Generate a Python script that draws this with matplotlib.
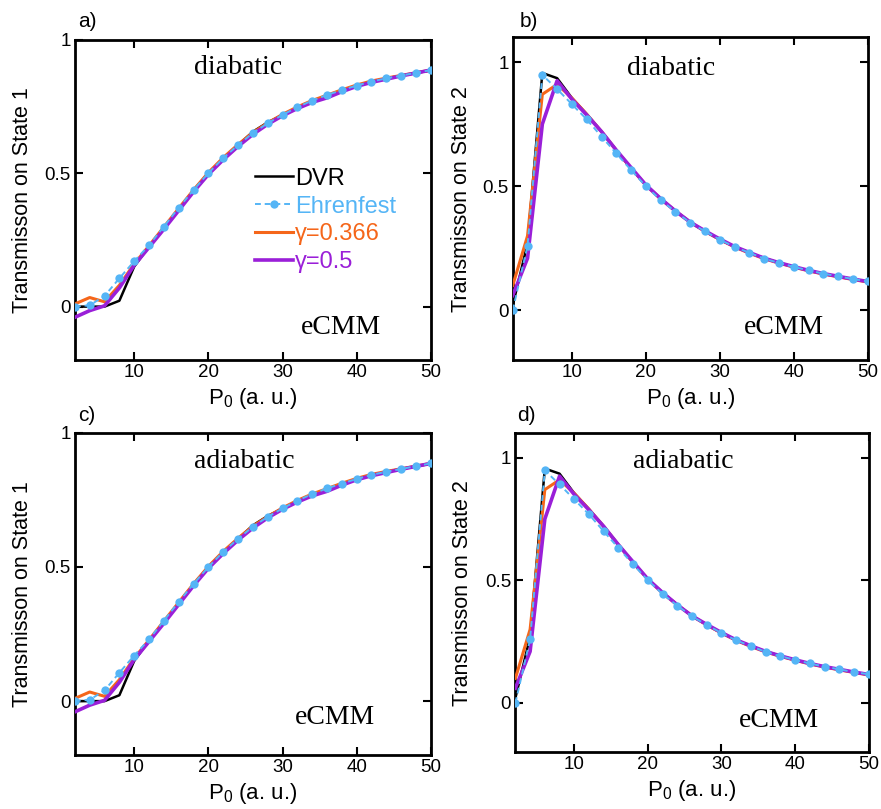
import numpy as np
import matplotlib
matplotlib.use("Agg")
import matplotlib.pyplot as plt

plt.rcParams['font.family'] = ['Liberation Sans', 'DejaVu Sans']
plt.rcParams['mathtext.fontset'] = 'custom'
plt.rcParams['mathtext.rm'] = 'Liberation Sans'
plt.rcParams['mathtext.it'] = 'Liberation Sans'

# ---------------- data ----------------
p0 = [2, 4, 6, 8, 10, 12, 14, 16, 18, 20, 22, 24, 26, 28, 30,
      32, 34, 36, 38, 40, 42, 44, 46, 48, 50]

# transmission on state 1
dvr_s1 = [0.0, 0.0, 0.0, 0.022, 0.15, 0.225, 0.295, 0.365, 0.435, 0.50, 0.555, 0.605,
          0.655, 0.69, 0.718, 0.745, 0.77, 0.79, 0.81, 0.827, 0.842, 0.855, 0.865, 0.875, 0.885]
ehr_s1 = [0.0, 0.005, 0.04, 0.106, 0.17, 0.23, 0.30, 0.37, 0.437, 0.50, 0.556, 0.605,
          0.65, 0.687, 0.718, 0.747, 0.772, 0.793, 0.811, 0.828, 0.843, 0.855, 0.865, 0.876, 0.886]
g0366_s1 = [0.01, 0.034, 0.018, 0.08, 0.16, 0.228, 0.298, 0.368, 0.437, 0.502, 0.558, 0.607,
            0.652, 0.688, 0.72, 0.748, 0.772, 0.792, 0.812, 0.83, 0.845, 0.856, 0.866, 0.876, 0.886]
g05_s1 = [-0.04, -0.015, 0.003, 0.07, 0.155, 0.222, 0.29, 0.36, 0.43, 0.495, 0.55, 0.60,
          0.645, 0.683, 0.715, 0.742, 0.765, 0.782, 0.805, 0.825, 0.84, 0.852, 0.864, 0.875, 0.886]

# transmission on state 2
dvr_s2 = [0.02, 0.27, 0.956, 0.935, 0.855, 0.79, 0.72, 0.645, 0.572, 0.505, 0.45, 0.40,
          0.355, 0.318, 0.285, 0.256, 0.232, 0.21, 0.192, 0.175, 0.16, 0.147, 0.136, 0.125, 0.115]
ehr_s2 = [0.0, 0.26, 0.948, 0.891, 0.83, 0.769, 0.70, 0.632, 0.565, 0.50, 0.444, 0.397,
          0.353, 0.318, 0.285, 0.255, 0.232, 0.208, 0.191, 0.175, 0.161, 0.148, 0.137, 0.126, 0.117]
g0366_s2 = [0.10, 0.30, 0.87, 0.91, 0.855, 0.79, 0.72, 0.645, 0.572, 0.505, 0.448, 0.40,
            0.355, 0.318, 0.285, 0.255, 0.23, 0.208, 0.19, 0.174, 0.159, 0.146, 0.135, 0.124, 0.114]
g05_s2 = [0.06, 0.21, 0.75, 0.925, 0.85, 0.787, 0.72, 0.645, 0.575, 0.505, 0.45, 0.40,
          0.355, 0.32, 0.287, 0.257, 0.233, 0.21, 0.192, 0.176, 0.161, 0.148, 0.137, 0.126, 0.116]

labels = ["DVR", "Ehrenfest", "\u03b3=0.366", "\u03b3=0.5"]
c_dvr = "black"
c_ehr = "#55b5f6"
c_366 = "#f5661a"
c_05 = "#9a1fd8"

# ---------------- figure ----------------
fig = plt.figure(figsize=(8.81, 8.09), dpi=100)

panels = [
    # rect, series, ylim, ylabel, regime, tag, ylabel x, text pos
    ([0.085, 0.555, 0.404, 0.396], (dvr_s1, ehr_s1, g0366_s1, g05_s1), (-0.2, 1.0),
     "Transmisson on State 1", "diabatic", "a)", -0.118, (0.458, 0.912), (0.747, 0.10)),
    ([0.582, 0.555, 0.403, 0.399], (dvr_s2, ehr_s2, g0366_s2, g05_s2), (-0.2, 1.1),
     "Transmisson on State 2", "diabatic", "b)", -0.115, (0.447, 0.904), (0.763, 0.10)),
    ([0.085, 0.067, 0.404, 0.398], (dvr_s1, ehr_s1, g0366_s1, g05_s1), (-0.2, 1.0),
     "Transmisson on State 1", "adiabatic", "c)", -0.118, (0.475, 0.911), (0.73, 0.115)),
    ([0.585, 0.0705, 0.401, 0.394], (dvr_s2, ehr_s2, g0366_s2, g05_s2), (-0.2, 1.1),
     "Transmisson on State 2", "adiabatic", "d)", -0.119, (0.475, 0.91), (0.747, 0.10)),
]

tag_pos = [(0.099, 0.973), (0.60, 0.973), (0.099, 0.487), (0.598, 0.487)]

for i, (rect, series, ylim, ylab, regime, tag, ylx, tpos, epos) in enumerate(panels):
    ax = fig.add_axes(rect)
    dvr, ehr, g366, g05 = series
    ax.plot(p0, dvr, color=c_dvr, lw=1.8, zorder=2, label=labels[0])
    ax.plot(p0, ehr, color=c_ehr, lw=1.4, ls=(0, (3, 2)), marker="o", ms=6,
            markeredgewidth=0, zorder=5, label=labels[1])
    ax.plot(p0, g366, color=c_366, lw=2.2, zorder=3, label=labels[2])
    ax.plot(p0, g05, color=c_05, lw=2.6, zorder=4, label=labels[3])

    ax.set_xlim(2, 50)
    ax.set_ylim(*ylim)
    ax.set_xticks([10, 20, 30, 40, 50])
    ax.set_yticks([0, 0.5, 1])
    ax.set_yticklabels(["0", "0.5", "1"])
    ax.tick_params(direction="in", top=True, right=True, length=6, width=1.5,
                   labelsize=13.5, pad=3)
    for sp in ax.spines.values():
        sp.set_linewidth(2)

    ax.set_ylabel(ylab, fontsize=15.5)
    ax.yaxis.set_label_coords(ylx, 0.5)
    ax.set_xlabel("P$_0$ (a. u.)", fontsize=16)
    ax.xaxis.set_label_coords(0.5, -0.082)

    ax.text(tpos[0], tpos[1], regime, transform=ax.transAxes, ha="center", va="center",
            fontsize=20, family="Liberation Serif")
    ax.text(epos[0], epos[1], "eCMM", transform=ax.transAxes, ha="center", va="center",
            fontsize=20, family="Liberation Serif")
    fig.text(tag_pos[i][0], tag_pos[i][1], tag, ha="center", va="center", fontsize=15)

    if i == 0:
        ax.legend(loc="upper left", bbox_to_anchor=(0.48, 0.63), frameon=False,
                  fontsize=17, labelcolor="linecolor", handlelength=1.6,
                  handletextpad=0.1, labelspacing=0.25, borderaxespad=0)

fig.savefig("out.png", dpi=100)
